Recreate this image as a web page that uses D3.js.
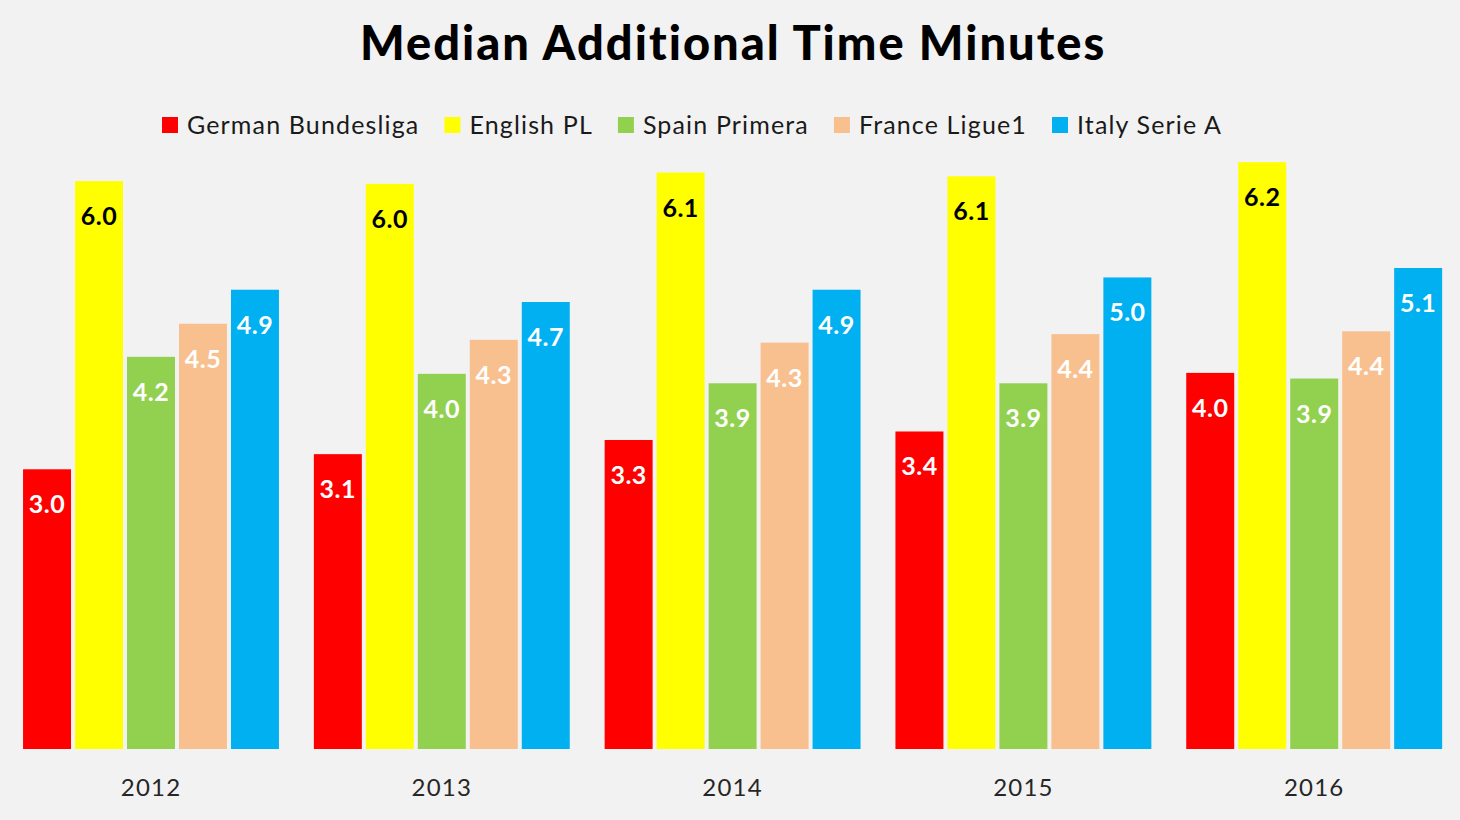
<!DOCTYPE html>
<html><head><meta charset="utf-8">
<script src="https://cdn.jsdelivr.net/npm/d3@7"></script>
<style>
html,body{margin:0;padding:0;background:#f2f2f2;}
svg{display:block;font-family:Lato,"Open Sans",sans-serif;}
</style></head>
<body>
<svg id="chart" width="1460" height="820"></svg>
<script>
const years = ["2012","2013","2014","2015","2016"];
const seriesNames = ["German Bundesliga","English PL","Spain Primera","France Ligue1","Italy Serie A"];
const seriesColors = ["#ff0000","#ffff00","#92d050","#f9c08f","#00b0f0"];
const labelColors = ["#ffffff","#000000","#ffffff","#ffffff","#ffffff"];
const germanBundesliga = [2.96, 3.12, 3.27, 3.36, 3.98];
const englishPL        = [6.01, 5.98, 6.10, 6.06, 6.21];
const spainPrimera     = [4.15, 3.97, 3.87, 3.87, 3.92];
const franceLigue1     = [4.50, 4.33, 4.30, 4.39, 4.42];
const italySerieA      = [4.86, 4.73, 4.86, 4.99, 5.09];
const seriesValues = [germanBundesliga, englishPL, spainPrimera, franceLigue1, italySerieA];

const svg = d3.select("#chart");
const W = 1460, H = 820;
const baseY = 749;

svg.append("rect").attr("width",W).attr("height",H).attr("fill","#f2f2f2");

// Title (spread to match reference width)
const title = svg.append("text").attr("x",360).attr("y",60)
  .attr("font-size",47).attr("font-weight",900).attr("fill","#000")
  .text("Median Additional Time Minutes");
const tw = title.node().getComputedTextLength();
const tn = title.text().length;
title.attr("letter-spacing", ((745 - tw)/(tn-1)).toFixed(2));

// scales
const x0 = d3.scaleBand().domain(years).range([5.6,1459.6]).paddingInner(0.12).paddingOuter(0.06);
const x1 = d3.scaleBand().domain(d3.range(seriesNames.length)).range([0,x0.bandwidth()]).paddingInner(0.077).paddingOuter(0);
const y = d3.scaleLinear().domain([0,7]).range([baseY, baseY - 7*94.5]);

const data = [];
years.forEach((yr,i)=>{
  seriesNames.forEach((s,j)=>{
    data.push({yr, j, v: seriesValues[j][i]});
  });
});

const g = svg.append("g");
g.selectAll("rect.bar").data(data).join("rect").attr("class","bar")
  .attr("x",d=>x0(d.yr)+x1(d.j)).attr("width",x1.bandwidth())
  .attr("y",d=>y(d.v)).attr("height",d=>baseY-y(d.v))
  .attr("fill",d=>seriesColors[d.j]);

g.selectAll("text.lbl").data(data).join("text").attr("class","lbl")
  .attr("x",d=>x0(d.yr)+x1(d.j)+x1.bandwidth()/2)
  .attr("y",d=>y(d.v)+44)
  .attr("text-anchor","middle").attr("font-size",25).attr("font-weight",700)
  .attr("letter-spacing",0.5)
  .attr("fill",d=>labelColors[d.j])
  .text(d=>d3.format(".1f")(d.v));

// x axis labels
const xAxis = d3.axisBottom(x0).tickSize(0).tickPadding(0);
const ax = svg.append("g").attr("transform",`translate(0,${baseY})`).call(xAxis);
ax.select(".domain").remove();
ax.selectAll("text").attr("dy",null).attr("y",47).attr("font-size",24)
  .attr("letter-spacing",1.2)
  .attr("font-family","Lato, sans-serif").attr("fill","#262626");

// legend
const leg = svg.append("g").attr("transform","translate(162,125)");
let lx = 0;
seriesNames.forEach((s,j)=>{
  const it = leg.append("g").attr("transform",`translate(${lx},0)`);
  it.append("rect").attr("x",0).attr("y",-8).attr("width",16).attr("height",16).attr("fill",seriesColors[j]);
  const t = it.append("text").attr("x",25).attr("y",9).attr("font-size",25)
    .attr("letter-spacing",1.15).attr("fill","#1a1a1a").text(s);
  const w = t.node().getComputedTextLength();
  lx += 25 + w + 25;
});
</script>
</body></html>
